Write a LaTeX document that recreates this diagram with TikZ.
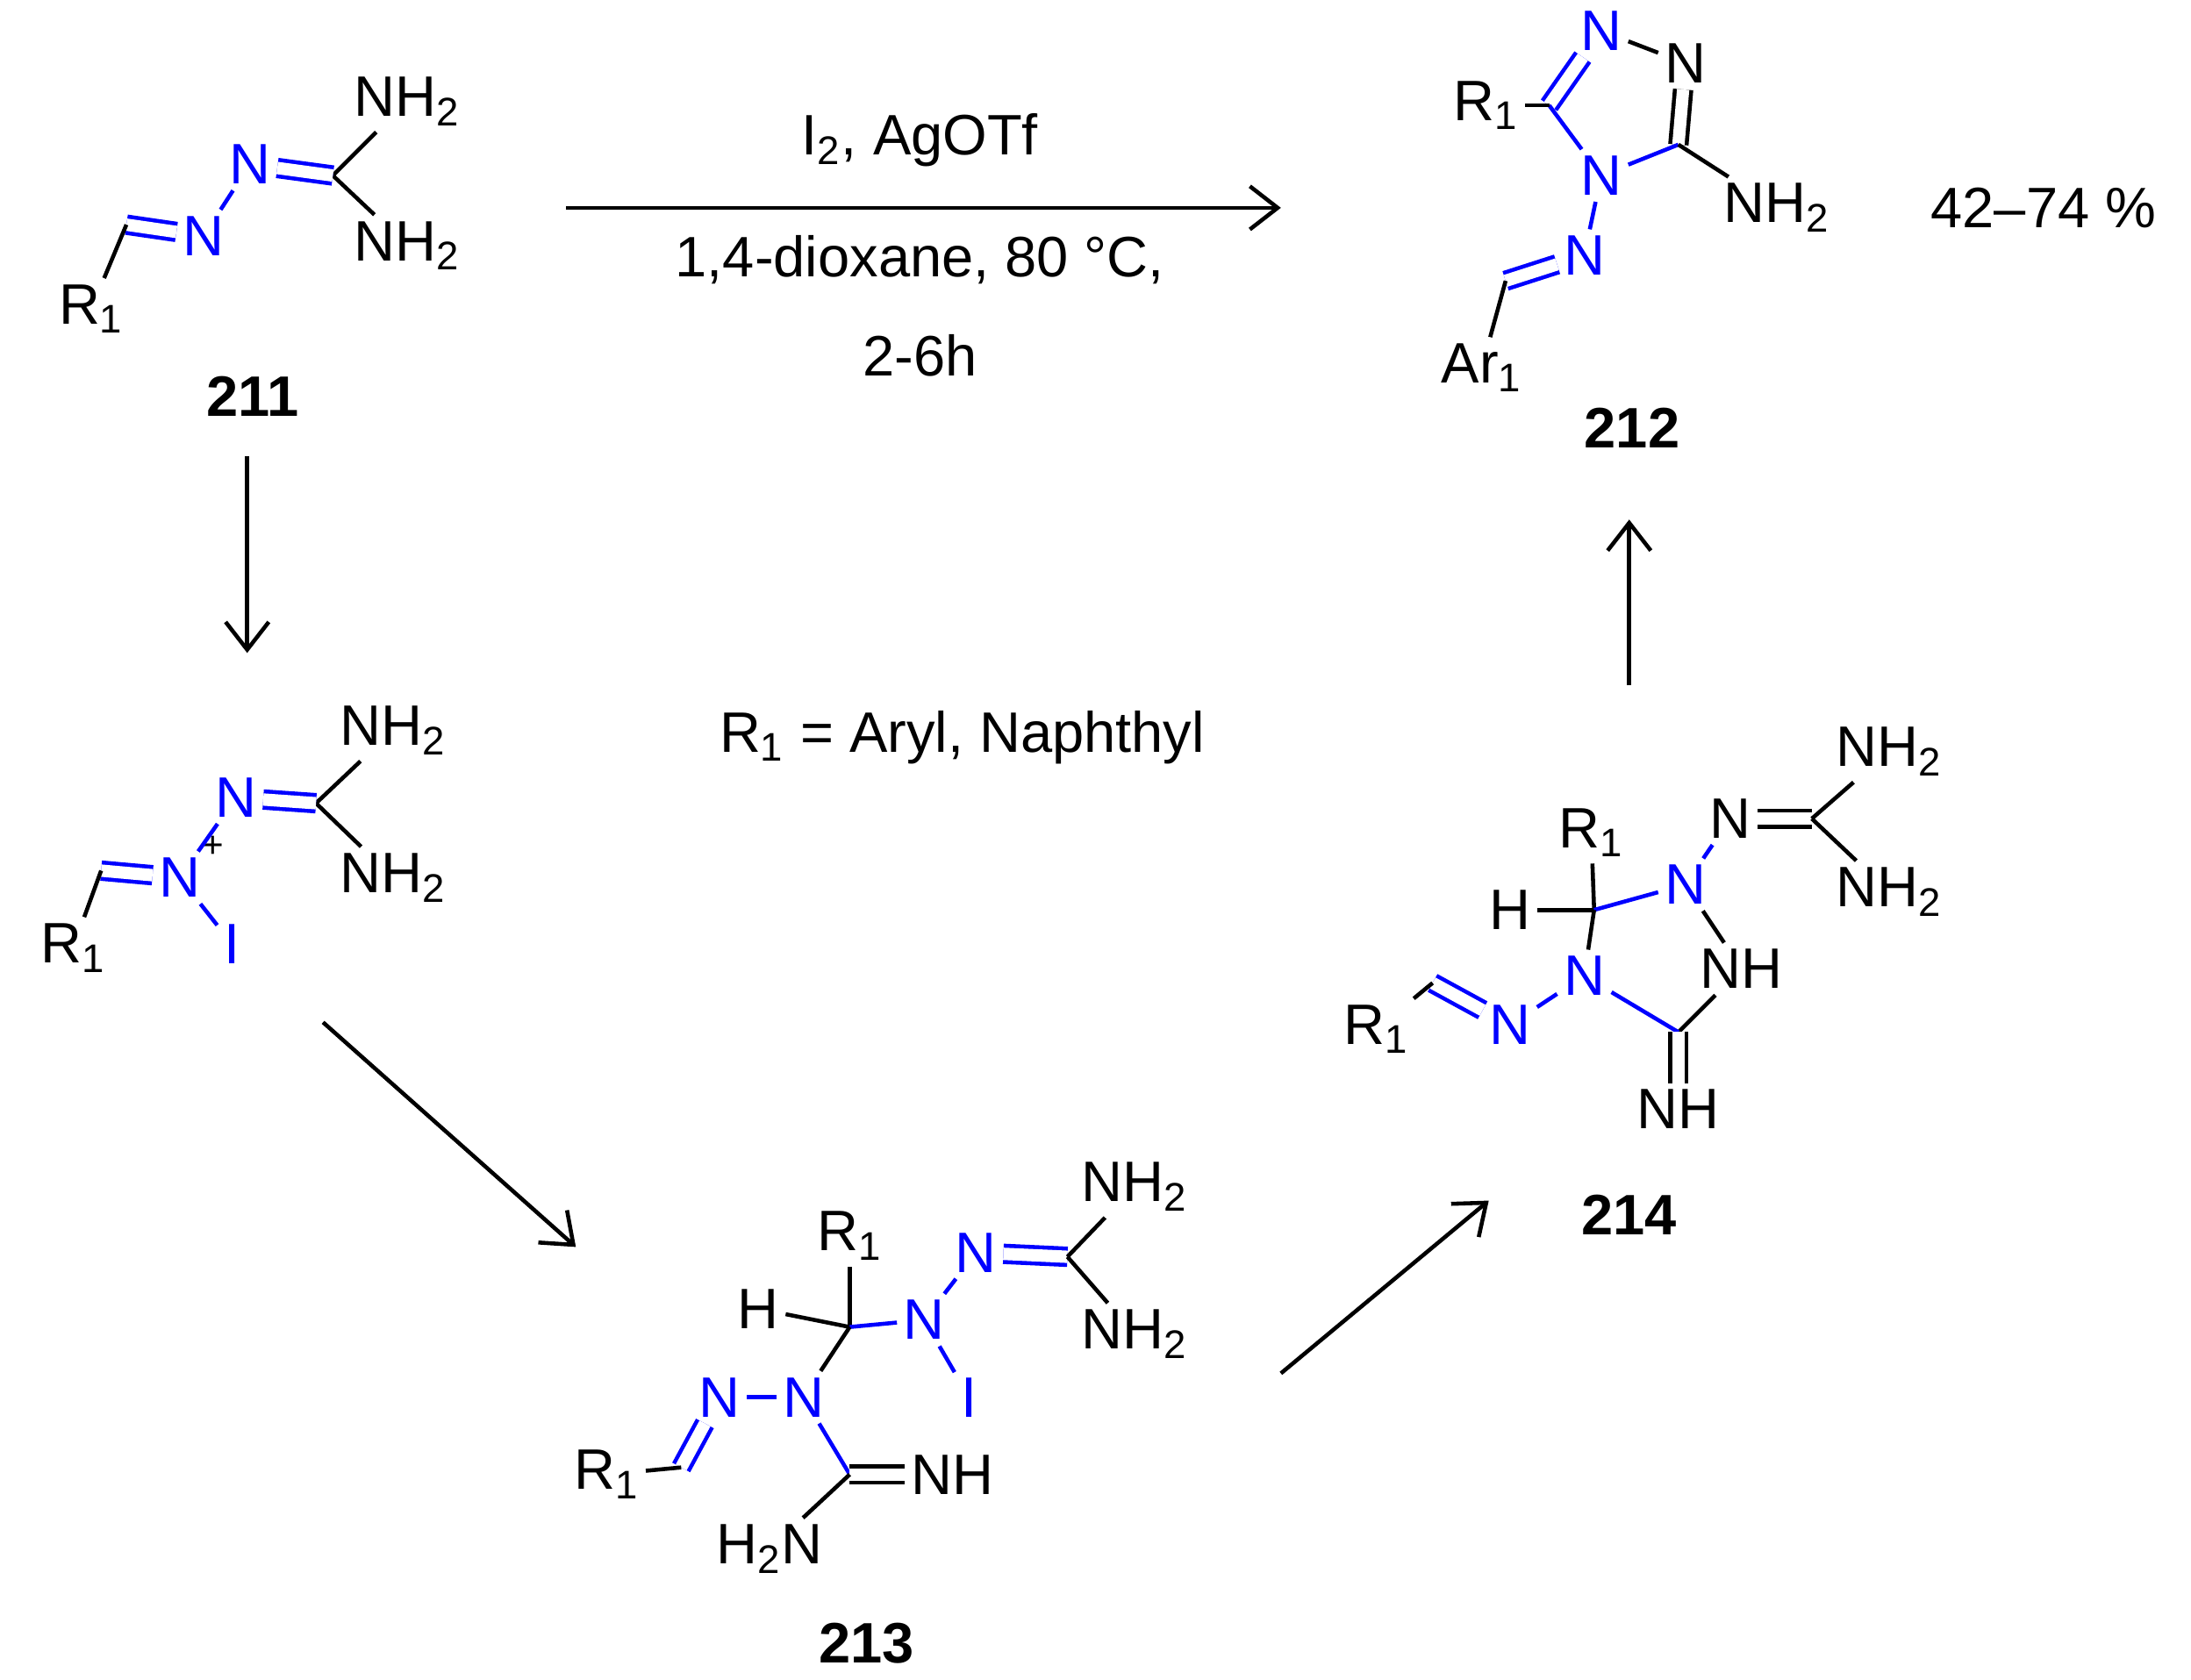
\documentclass[tikz,border=0pt]{standalone}
\usepackage{fontspec}
\setmainfont{Liberation Sans}
\usetikzlibrary{arrows.meta}
\newcommand{\sbs}[1]{\textsubscript{#1}}
\begin{document}
\begin{tikzpicture}[x=0.016cm, y=-0.016cm, line width=1.3pt,
  atm/.style = {inner sep=1.5pt, font=\fontsize{18.5}{22}\selectfont},
  nb/.style = {atm, text=blue},
  lab/.style = {font=\fontsize{18.5}{22}\selectfont\bfseries},
  txt/.style = {font=\fontsize{18.5}{22}\selectfont},
  bb/.style = {draw=blue},
  dbl/.style = {double, double distance=4pt},
  rxn/.style = {->, line width=1.3pt, >={Straight Barb[length=9pt,width=14pt]}}]
  \useasboundingbox (0,0) rectangle (1560,1196);

  % 211
  \node[atm] (a1) at (290,72) {NH\sbs{2}};
  \node[atm] (a2) at (290,175) {NH\sbs{2}};
  \coordinate (ac) at (237,125);
  \node[nb] (an1) at (178,117) {N};
  \node[nb] (an2) at (145,168) {N};
  \coordinate (ach) at (90,160);
  \node[atm] (ar) at (65,220) {R\sbs{1}};
  \node[lab] at (180,282) {211};
  \draw (ac) -- (a1); \draw (ac) -- (a2);
  \draw[bb, dbl] (an1) -- (ac);
  \draw[bb] (an1) -- (an2);
  \draw[bb, dbl] (an2) -- (ach);
  \draw (ach) -- (ar);

  % top reaction
  \coordinate (t0) at (403,148); \coordinate (t1) at (912,148);
  \draw[rxn] (t0) -- (t1);
  \node[txt] at (655,100) {I\sbs{2}, AgOTf};
  \node[txt] at (655,185) {1,4-dioxane, 80 °C,};
  \node[txt] at (655,253) {2-6h};

  % 212
  \node[nb] (bn1) at (1140,22) {N};
  \node[atm] (bn2) at (1200,45) {N};
  \coordinate (bc3) at (1195,103);
  \node[nb] (bn4) at (1140,125) {N};
  \coordinate (bc5) at (1103,75);
  \node[atm] (br) at (1058,75) {R\sbs{1}};
  \node[atm] (bnh) at (1265,148) {NH\sbs{2}};
  \node[nb] (bn6) at (1128,182) {N};
  \coordinate (bch) at (1072,200);
  \node[atm] (bar) at (1055,262) {Ar\sbs{1}};
  \node[lab] at (1162,305) {212};
  \node[txt] at (1455,148) {42–74 \%};
  \draw[bb, dbl] (bc5) -- (bn1);
  \draw (bn1) -- (bn2);
  \draw[dbl] (bn2) -- (bc3);
  \draw[bb] (bc3) -- (bn4);
  \draw[bb] (bn4) -- (bc5);
  \draw (bc5) -- (br);
  \draw (bc3) -- (bnh);
  \draw[bb] (bn4) -- (bn6);
  \draw[bb, dbl] (bn6) -- (bch);
  \draw (bch) -- (bar);

  % 211 -> iodo intermediate
  \coordinate (d0) at (176,325); \coordinate (d1) at (176,465);
  \draw[rxn] (d0) -- (d1);

  % iodo intermediate
  \node[atm] (c1) at (280,520) {NH\sbs{2}};
  \node[atm] (c2) at (280,625) {NH\sbs{2}};
  \coordinate (cc) at (225,572);
  \node[nb] (cn1) at (168,568) {N};
  \node[nb] (cn2) at (128,625) {N};
  \node[inner sep=0pt, font=\fontsize{12}{14}\selectfont] at (152,603) {+};
  \coordinate (cch) at (72,620);
  \node[atm] (cr) at (52,675) {R\sbs{1}};
  \node[nb] (ci) at (165,672) {I};
  \draw (cc) -- (c1); \draw (cc) -- (c2);
  \draw[bb, dbl] (cn1) -- (cc);
  \draw[bb] (cn1) -- (cn2);
  \draw[bb, dbl] (cn2) -- (cch);
  \draw (cch) -- (cr);
  \draw[bb] (cn2) -- (ci);

  \node[txt] at (685,525) {R\sbs{1} = Aryl, Naphthyl};

  % -> 213
  \coordinate (e0) at (230,728); \coordinate (e1) at (410,888);
  \draw[rxn] (e0) -- (e1);

  % 213
  \node[atm] (dr) at (605,880) {R\sbs{1}};
  \node[atm] (dh) at (540,932) {H};
  \coordinate (dc) at (605,945);
  \node[nb] (dn1) at (658,940) {N};
  \node[nb] (dn2) at (695,892) {N};
  \coordinate (dc2) at (760,895);
  \node[atm] (d1) at (808,845) {NH\sbs{2}};
  \node[atm] (d2) at (808,950) {NH\sbs{2}};
  \node[nb] (di) at (690,995) {I};
  \node[nb] (dn3) at (572,995) {N};
  \node[nb] (dn4) at (512,995) {N};
  \coordinate (dch) at (485,1045);
  \node[atm] (dr2) at (432,1050) {R\sbs{1}};
  \coordinate (dc3) at (605,1050);
  \node[atm] (dnh) at (678,1050) {NH};
  \node[atm] (dh2n) at (548,1103) {H\sbs{2}N};
  \node[lab] at (617,1170) {213};
  \draw (dc) -- (dr); \draw (dc) -- (dh);
  \draw[bb] (dc) -- (dn1);
  \draw[bb] (dn1) -- (dn2);
  \draw[bb] (dn1) -- (di);
  \draw[bb, dbl] (dn2) -- (dc2);
  \draw (dc2) -- (d1); \draw (dc2) -- (d2);
  \draw (dc) -- (dn3);
  \draw[bb] (dn3) -- (dn4);
  \draw[bb, dbl] (dn4) -- (dch);
  \draw (dch) -- (dr2);
  \draw[bb] (dn3) -- (dc3);
  \draw[dbl] (dc3) -- (dnh);
  \draw (dc3) -- (dh2n);

  % -> 214
  \coordinate (f0) at (912,978); \coordinate (f1) at (1060,855);
  \draw[rxn] (f0) -- (f1);

  % 214
  \node[atm] (er) at (1133,593) {R\sbs{1}};
  \node[atm] (eh) at (1075,648) {H};
  \coordinate (ec) at (1135,648);
  \node[nb] (en1) at (1200,630) {N};
  \node[atm] (en2) at (1232,583) {N};
  \coordinate (ec2) at (1290,583);
  \node[atm] (e1) at (1345,535) {NH\sbs{2}};
  \node[atm] (e2) at (1345,635) {NH\sbs{2}};
  \node[atm] (enh) at (1240,690) {NH};
  \coordinate (ec3) at (1195,735);
  \node[nb] (en3) at (1128,695) {N};
  \node[nb] (en4) at (1075,730) {N};
  \coordinate (ech) at (1020,700);
  \node[atm] (er2) at (980,733) {R\sbs{1}};
  \node[atm] (eim) at (1195,790) {NH};
  \node[lab] at (1160,865) {214};
  \draw (ec) -- (er); \draw (ec) -- (eh);
  \draw[bb] (ec) -- (en1);
  \draw[bb] (en1) -- (en2);
  \draw[dbl] (en2) -- (ec2);
  \draw (ec2) -- (e1); \draw (ec2) -- (e2);
  \draw (en1) -- (enh);
  \draw (enh) -- (ec3);
  \draw[bb] (ec3) -- (en3);
  \draw (en3) -- (ec);
  \draw[bb] (en3) -- (en4);
  \draw[bb, dbl] (en4) -- (ech);
  \draw (ech) -- (er2);
  \draw[dbl] (ec3) -- (eim);

  % 214 -> 212
  \coordinate (g0) at (1160,488); \coordinate (g1) at (1160,370);
  \draw[rxn] (g0) -- (g1);
\end{tikzpicture}
\end{document}
